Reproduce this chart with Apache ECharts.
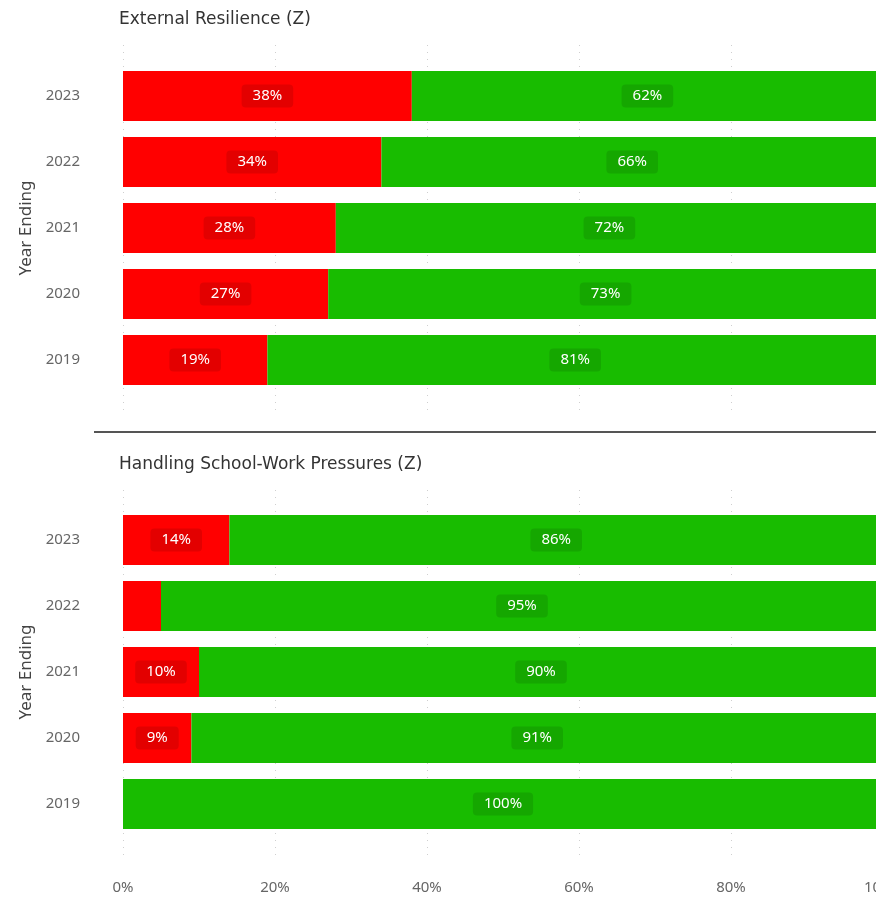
<!DOCTYPE html>
<html>
<head>
<meta charset="utf-8">
<script src="https://cdn.jsdelivr.net/npm/echarts@6/dist/echarts.min.js"></script>
<style>
  html, body { margin: 0; padding: 0; background: #fff; }
  #chart { width: 876px; height: 901px; }
</style>
</head>
<body>
<div id="chart"></div>
<script>
// Survey results by year: share of negative (red) vs positive (green) responses
const years = ['2019', '2020', '2021', '2022', '2023'];

const resilienceTitle = 'External Resilience (Z)';
const resilienceLow  = [19, 27, 28, 34, 38];
const resilienceHigh = [81, 73, 72, 66, 62];

const pressureTitle = 'Handling School-Work Pressures (Z)';
const pressureLow  = [0, 9, 10, 5, 14];
const pressureHigh = [100, 91, 90, 95, 86];

const xTicks = [0, 20, 40, 60, 80, 100];
const axisTitle = 'Year Ending';

const RED = '#FF0000';
const GREEN = '#18BC00';
const FONT = '"Noto Sans", "DejaVu Sans", sans-serif';
const TITLE_FONT = '"DejaVu Sans", sans-serif';

// Bar data items; small segments get no value tag
function items(values) {
  return values.map(v => ({ value: v, label: { show: v >= 8 } }));
}

const segLabel = {
  show: true,
  position: 'inside',
  formatter: '{c}%',
  color: '#fff',
  fontFamily: FONT,
  fontSize: 15,
  backgroundColor: 'rgba(0,0,0,0.11)',
  borderRadius: 4,
  padding: [4, 11]
};

function barSeries(axisIdx, low, high) {
  return [
    { type: 'bar', stack: 's' + axisIdx, xAxisIndex: axisIdx, yAxisIndex: axisIdx,
      barCategoryGap: '24%', itemStyle: { color: RED }, label: segLabel,
      data: items(low), silent: true },
    { type: 'bar', stack: 's' + axisIdx, xAxisIndex: axisIdx, yAxisIndex: axisIdx,
      barCategoryGap: '24%', itemStyle: { color: GREEN }, label: segLabel,
      data: items(high), silent: true }
  ];
}

// Grids 0/2 hold the bars, grids 1/3 carry the dotted gridlines behind them.
// The plot runs slightly past the right edge of the canvas.
const gridL = 123, gridW = 760;
function grid(top, height) {
  return { left: gridL, width: gridW, top, height, containLabel: false, outerBoundsMode: 'none' };
}
const grids = [grid(63, 330), grid(45, 367), grid(507, 330), grid(490, 368)];

function valueAxis(gridIndex, withLines, withLabels) {
  return {
    type: 'value', gridIndex, min: 0, max: 100, interval: 20,
    axisLine: { show: false }, axisTick: { show: false },
    axisLabel: {
      show: withLabels, formatter: v => xTicks.includes(v) ? v + '%' : '',
      color: '#666', fontFamily: FONT, fontSize: 15, margin: 22
    },
    splitLine: { show: withLines, lineStyle: { color: '#cfcfcf', type: [1, 6], width: 1 } }
  };
}

function catAxis(gridIndex) {
  return {
    type: 'category', gridIndex, data: years,
    axisLine: { show: false }, axisTick: { show: false },
    axisLabel: { color: '#666', fontFamily: FONT, fontSize: 15, margin: 43 },
    name: axisTitle, nameLocation: 'middle', nameRotate: 90, nameGap: 86,
    nameTextStyle: { color: '#444', fontFamily: FONT, fontSize: 17 }
  };
}

const option = {
  animation: false,
  backgroundColor: '#fff',
  title: [
    { text: resilienceTitle, left: 114, top: 6,
      textStyle: { color: '#333', fontFamily: TITLE_FONT, fontSize: 17, fontWeight: 'normal' } },
    { text: pressureTitle, left: 114, top: 451,
      textStyle: { color: '#333', fontFamily: TITLE_FONT, fontSize: 17, fontWeight: 'normal' } }
  ],
  grid: grids,
  xAxis: [
    valueAxis(0, false, false),
    valueAxis(1, true, false),
    valueAxis(2, false, false),
    valueAxis(3, true, true)
  ],
  yAxis: [
    catAxis(0),
    { type: 'category', gridIndex: 1, data: years, show: false },
    catAxis(2),
    { type: 'category', gridIndex: 3, data: years, show: false }
  ],
  graphic: [
    { type: 'line', shape: { x1: 94, y1: 432, x2: 876, y2: 432 },
      style: { stroke: '#555', lineWidth: 2 } }
  ],
  series: [
    ...barSeries(0, resilienceLow, resilienceHigh),
    ...barSeries(2, pressureLow, pressureHigh)
  ]
};

const chart = echarts.init(document.getElementById('chart'), null, { renderer: 'canvas' });
chart.setOption(option);
</script>
</body>
</html>
